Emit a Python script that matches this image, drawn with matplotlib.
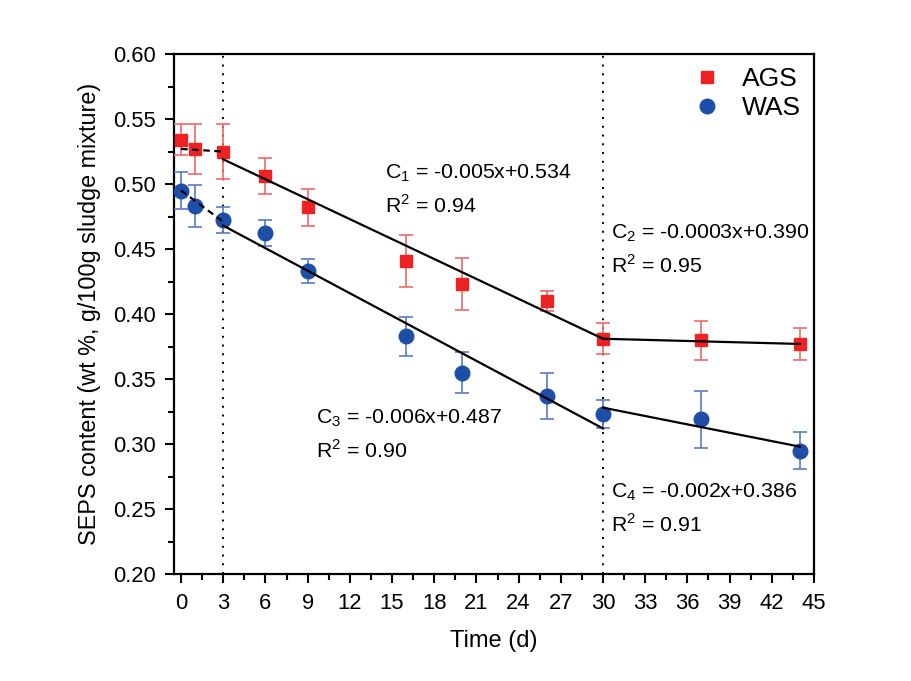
import matplotlib
matplotlib.use('Agg')
import matplotlib.pyplot as plt
from matplotlib.ticker import MultipleLocator

plt.rcParams['font.family'] = ['Liberation Sans', 'DejaVu Sans']
plt.rcParams['mathtext.fontset'] = 'custom'
plt.rcParams['mathtext.rm'] = 'Liberation Sans'

# measured data
days = [0, 1, 3, 6, 9, 16, 20, 26, 30, 37, 44]
ags = [0.534, 0.527, 0.525, 0.506, 0.482, 0.441, 0.423, 0.410, 0.381, 0.380, 0.377]
ags_err = [0.012, 0.019, 0.021, 0.014, 0.014, 0.020, 0.020, 0.008, 0.012, 0.015, 0.012]
was = [0.495, 0.483, 0.472, 0.462, 0.433, 0.383, 0.355, 0.337, 0.323, 0.319, 0.295]
was_err = [0.014, 0.016, 0.010, 0.010, 0.009, 0.015, 0.016, 0.018, 0.011, 0.022, 0.014]

# fitted segments (end points)
ags_dash_x, ags_dash_y = [0, 3], [0.527, 0.525]
was_dash_x, was_dash_y = [0, 3], [0.495, 0.471]
c1_x, c1_y = [3, 30], [0.519, 0.381]
c2_x, c2_y = [30, 44], [0.381, 0.377]
c3_x, c3_y = [3, 30], [0.468, 0.312]
c4_x, c4_y = [30, 44], [0.328, 0.298]

red = '#EE2222'
blue = '#1F4EA8'

fig = plt.figure(figsize=(9.11, 6.81), dpi=100)
ax = fig.add_axes([0.191, 0.157, 0.7025, 0.7637])

ax.axvline(3, color='black', ls=(0, (1, 3.5)), lw=1.4, zorder=1)
ax.axvline(30, color='black', ls=(0, (1, 3.5)), lw=1.4, zorder=1)

ax.errorbar(days, ags, yerr=ags_err, fmt='s', color=red, ecolor='#F06A6A',
            ms=9, elinewidth=1.2, capsize=5, capthick=1.2, label='AGS', zorder=3)
ax.errorbar(days, was, yerr=was_err, fmt='o', color=blue, ecolor='#5A7CC4',
            ms=10.5, elinewidth=1.2, capsize=5, capthick=1.2, label='WAS', zorder=3)

ax.plot(ags_dash_x, ags_dash_y, color='black', ls=(0, (3, 2)), lw=1.6, zorder=4)
ax.plot(was_dash_x, was_dash_y, color='black', ls=(0, (3, 2)), lw=1.6, zorder=4)
for xs, ys in [(c1_x, c1_y), (c2_x, c2_y), (c3_x, c3_y), (c4_x, c4_y)]:
    ax.plot(xs, ys, color='black', lw=1.6, zorder=4)

fs = 15.3
ax.text(14.5, 0.5046, r'C$_\mathregular{1}$ = -0.005x+0.534', fontsize=fs)
ax.text(14.5, 0.4777, r'R$^\mathregular{2}$ = 0.94', fontsize=fs)
ax.text(30.6, 0.4585, r'C$_\mathregular{2}$ = -0.0003x+0.390', fontsize=fs)
ax.text(30.6, 0.4315, r'R$^\mathregular{2}$ = 0.95', fontsize=fs)
ax.text(9.6, 0.3162, r'C$_\mathregular{3}$ = -0.006x+0.487', fontsize=fs)
ax.text(9.6, 0.2892, r'R$^\mathregular{2}$ = 0.90', fontsize=fs)
ax.text(30.6, 0.2592, r'C$_\mathregular{4}$ = -0.002x+0.386', fontsize=fs)
ax.text(30.6, 0.2323, r'R$^\mathregular{2}$ = 0.91', fontsize=fs)

ax.set_xlim(-0.5, 45)
ax.set_ylim(0.20, 0.60)
ax.xaxis.set_major_locator(MultipleLocator(3))
ax.xaxis.set_minor_locator(MultipleLocator(1.5))
ax.yaxis.set_major_locator(MultipleLocator(0.05))
ax.yaxis.set_minor_locator(MultipleLocator(0.025))
ax.yaxis.set_major_formatter(matplotlib.ticker.FormatStrFormatter('%.2f'))
ax.tick_params(which='major', direction='out', length=6.5, width=1.5, labelsize=15.8)
ax.tick_params(which='minor', direction='out', length=4.3, width=1.5)
ax.tick_params(axis='y', which='major', pad=6.5)
ax.tick_params(axis='x', which='major', pad=7)
for s in ax.spines.values():
    s.set_linewidth(1.6)

ax.set_xlabel('Time (d)', fontsize=17, labelpad=12)
ax.set_ylabel('SEPS content (wt %, g/100g sludge mixture)', fontsize=16.8, labelpad=9)

h, l = ax.get_legend_handles_labels()
h = [x[0] for x in h]
ax.legend(h, l, loc='upper right', frameon=False, fontsize=19, handletextpad=0.7,
          borderaxespad=0.1, labelspacing=0.2, handlelength=1.2)

fig.savefig('out.png', dpi=100)
